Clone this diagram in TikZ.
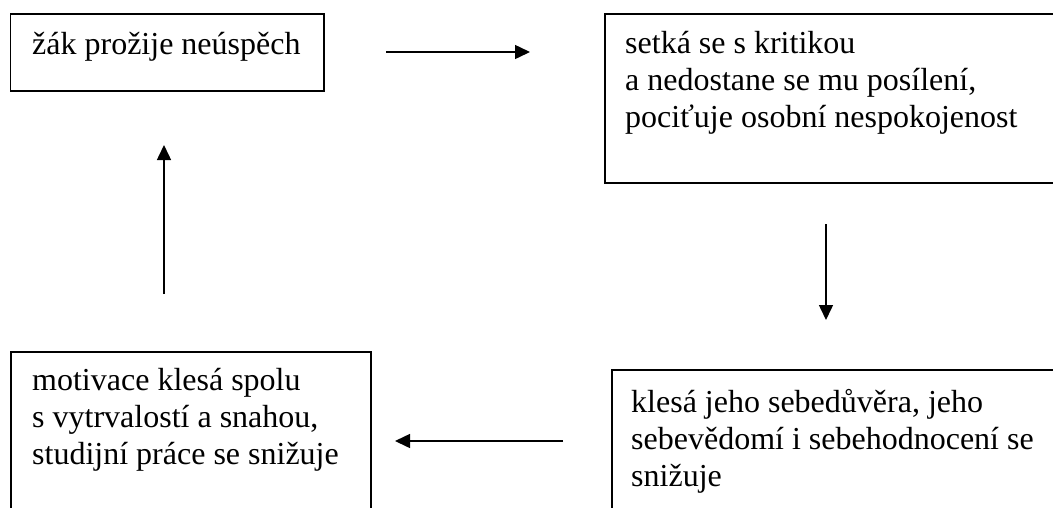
\documentclass[tikz,border=0pt]{standalone}
\usepackage{fontspec}
\setmainfont{Liberation Serif}
\usetikzlibrary{arrows.meta}
\tikzset{
  boxnode/.style={draw=black, line width=1.5pt, inner sep=0pt},
  txtnode/.style={anchor=base west, inner sep=0pt, font=\fontsize{32}{37}\selectfont},
  flowarrow/.style={draw=black, line width=1.5pt, -{Triangle[length=15pt,width=14pt]}}
}
\newcommand{\boxtext}[1]{\parbox[t]{440pt}{\raggedright #1}}
\begin{document}
\begin{tikzpicture}[x=1pt,y=-1pt]
\useasboundingbox (0,0) rectangle (1053,507);
\clip (0,0) rectangle (1053,507);
% boxes
\node[boxnode, minimum width=313.5pt, minimum height=77pt, anchor=north west] (b1) at (9.5,13) {};
\node[boxnode, minimum width=470pt, minimum height=169pt, anchor=north west] (b2) at (604,13) {};
\node[boxnode, minimum width=470pt, minimum height=160pt, anchor=north west] (b3) at (611,369) {};
\node[boxnode, minimum width=360pt, minimum height=170pt, anchor=north west] (b4) at (10,351) {};
% texts
\node[txtnode] (t1) at (32,54) {\boxtext{žák prožije neúspěch}};
\node[txtnode] (t2) at (625,53) {\boxtext{setká se s kritikou\\a nedostane se mu posílení,\\pociťuje osobní nespokojenost}};
\node[txtnode] (t3) at (631,412) {\boxtext{klesá jeho sebedůvěra, jeho\\sebevědomí i sebehodnocení se\\snižuje}};
\node[txtnode] (t4) at (32,390) {\boxtext{motivace klesá spolu\\s vytrvalostí a snahou,\\studijní práce se snižuje}};
% arrow ends
\coordinate (a1s) at (386,52);
\coordinate (a1e) at (530,52);
\coordinate (a2s) at (826,224);
\coordinate (a2e) at (826,320);
\coordinate (a3s) at (563,441);
\coordinate (a3e) at (395,441);
\coordinate (a4s) at (164,294);
\coordinate (a4e) at (164,145);
\draw[flowarrow] (a1s) -- (a1e);
\draw[flowarrow] (a2s) -- (a2e);
\draw[flowarrow] (a3s) -- (a3e);
\draw[flowarrow] (a4s) -- (a4e);
\end{tikzpicture}
\end{document}
